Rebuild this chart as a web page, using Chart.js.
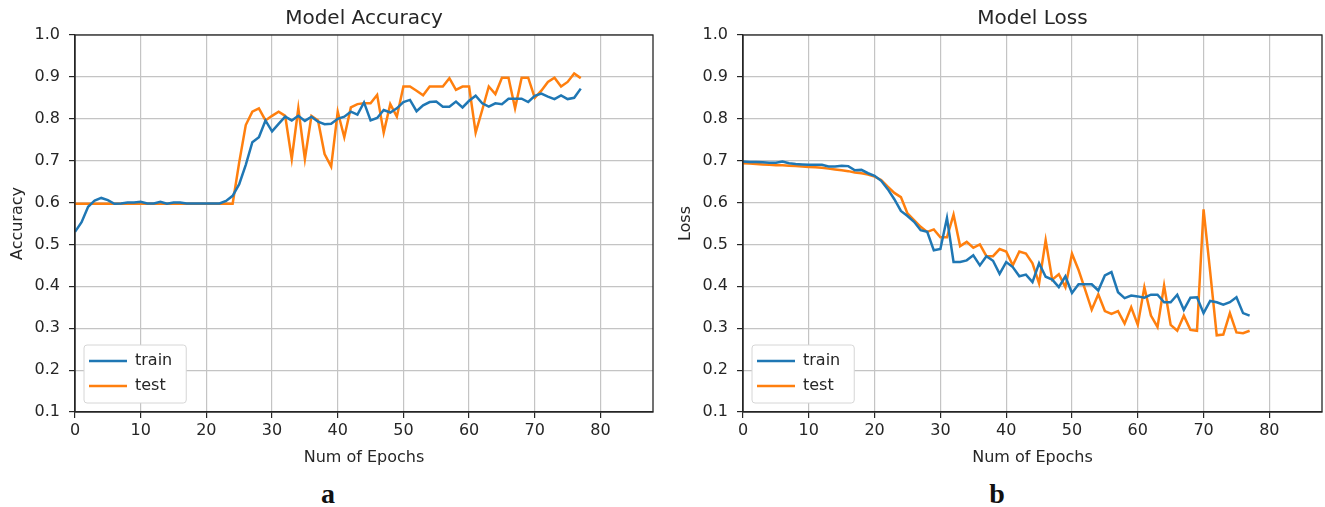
<!DOCTYPE html>
<html>
<head>
<meta charset="utf-8">
<script src="https://cdn.jsdelivr.net/npm/chart.js@4.4.1/dist/chart.umd.min.js"></script>
<style>
  body { margin: 0; background: #fff; width: 1325px; height: 507px; position: relative; overflow: hidden; }
  canvas { position: absolute; top: 0; }
  #accChart { left: 0; }
  #lossChart { left: 668px; }
  .tag { position: absolute; top: 478px; font: bold 28px "Liberation Serif", serif; color: #111; transform: translateX(-50%); }
</style>
</head>
<body>
<canvas id="accChart" width="662" height="475"></canvas>
<canvas id="lossChart" width="657" height="475"></canvas>
<div class="tag" style="left:328px">a</div>
<div class="tag" style="left:997px">b</div>
<script>
const accTrain = [0.53, 0.553, 0.59, 0.605, 0.611, 0.606, 0.597, 0.598, 0.6, 0.6,
  0.602, 0.598, 0.598, 0.602, 0.597, 0.6, 0.6, 0.598, 0.598, 0.598,
  0.598, 0.598, 0.598, 0.604, 0.616, 0.644, 0.69, 0.744, 0.756, 0.796,
  0.77, 0.788, 0.805, 0.796, 0.807, 0.795, 0.805, 0.793, 0.787, 0.788,
  0.8, 0.805, 0.817, 0.81, 0.839, 0.796, 0.802, 0.821, 0.815, 0.825,
  0.84, 0.845, 0.818, 0.832, 0.84, 0.841, 0.829, 0.829, 0.841, 0.827,
  0.843, 0.855, 0.837, 0.829, 0.837, 0.835, 0.848, 0.848, 0.848, 0.84,
  0.855, 0.86, 0.853, 0.847, 0.856, 0.847, 0.85, 0.872];
const accTest = [0.597, 0.597, 0.597, 0.597, 0.597, 0.597, 0.597, 0.597, 0.597, 0.597,
  0.597, 0.597, 0.597, 0.597, 0.597, 0.597, 0.597, 0.597, 0.597, 0.597,
  0.597, 0.597, 0.597, 0.597, 0.597, 0.696, 0.785, 0.817, 0.825, 0.796,
  0.807, 0.817, 0.807, 0.704, 0.825, 0.704, 0.807, 0.796, 0.716, 0.686,
  0.817, 0.756, 0.827, 0.835, 0.837, 0.837, 0.857, 0.767, 0.835, 0.805,
  0.877, 0.877, 0.867, 0.856, 0.877, 0.877, 0.877, 0.897, 0.869, 0.877,
  0.877, 0.767, 0.821, 0.877, 0.859, 0.898, 0.898, 0.825, 0.898, 0.898,
  0.85, 0.867, 0.888, 0.898, 0.877, 0.888, 0.908, 0.897];
const lossTrain = [0.698, 0.697, 0.697, 0.696, 0.695, 0.695, 0.698, 0.694, 0.692, 0.691,
  0.69, 0.69, 0.69, 0.686, 0.686, 0.688, 0.687, 0.677, 0.678, 0.67,
  0.664, 0.652, 0.632, 0.608, 0.58, 0.568, 0.554, 0.534, 0.53, 0.486,
  0.489, 0.563, 0.458, 0.458, 0.462, 0.474, 0.45, 0.472, 0.461, 0.43,
  0.458, 0.446, 0.424, 0.428, 0.41, 0.455, 0.423, 0.416, 0.398, 0.424,
  0.384, 0.405, 0.405, 0.405, 0.39, 0.426, 0.434, 0.386, 0.372, 0.378,
  0.376, 0.373, 0.38, 0.38, 0.362, 0.362, 0.38, 0.344, 0.373, 0.374,
  0.336, 0.365, 0.362, 0.356, 0.362, 0.374, 0.336, 0.33];
const lossTest = [0.694, 0.693, 0.692, 0.691, 0.69, 0.689, 0.689, 0.688, 0.687, 0.686,
  0.685, 0.684, 0.683, 0.681, 0.679, 0.677, 0.675, 0.672, 0.67, 0.667,
  0.662, 0.654, 0.638, 0.623, 0.613, 0.574, 0.558, 0.542, 0.53, 0.536,
  0.517, 0.517, 0.571, 0.496, 0.506, 0.492, 0.5, 0.472, 0.472, 0.489,
  0.483, 0.45, 0.483, 0.478, 0.455, 0.407, 0.51, 0.416, 0.429, 0.398,
  0.478, 0.439, 0.392, 0.344, 0.381, 0.341, 0.334, 0.341, 0.311, 0.35,
  0.308, 0.398, 0.33, 0.303, 0.402, 0.308, 0.294, 0.33, 0.296, 0.294,
  0.584, 0.435, 0.283, 0.285, 0.336, 0.29, 0.288, 0.294];
const xTicks = [0, 10, 20, 30, 40, 50, 60, 70, 80];

const BLUE = '#1f77b4';
const ORANGE = '#ff7f0e';
const INK = '#262626';

Chart.defaults.font.family = '"DejaVu Sans", sans-serif';
Chart.defaults.color = INK;

const toPoints = arr => arr.map((v, i) => ({ x: i, y: v }));

// matplotlib-style frame round the axes plus an opaque legend box
const framePlugin = {
  id: 'mplFrame',
  afterLayout(chart) {
    const lg = chart.legend;
    const a = chart.chartArea;
    lg.left = a.left + 5;
    lg.right = lg.left + lg.width;
    lg.bottom = a.bottom - 9;
  },
  afterDatasetsDraw(chart) {
    const ctx = chart.ctx;
    const a = chart.chartArea;
    ctx.save();
    ctx.strokeStyle = INK;
    ctx.lineWidth = 1.3;
    ctx.strokeRect(a.left, a.top, a.right - a.left, a.bottom - a.top);
    const hb = chart.legend.legendHitBoxes;
    if (hb && hb.length) {
      const l = Math.min(...hb.map(h => h.left)) - 5;
      const r = Math.max(...hb.map(h => h.left + h.width)) + 14;
      const t = Math.min(...hb.map(h => h.top)) - 8;
      const b = Math.max(...hb.map(h => h.top + h.height)) + 9;
      ctx.beginPath();
      ctx.roundRect(l, t, r - l, b - t, 3);
      ctx.fillStyle = '#ffffff';
      ctx.fill();
      ctx.strokeStyle = '#d6d6d6';
      ctx.lineWidth = 1;
      ctx.stroke();
    }
    ctx.restore();
    chart.legend.draw();
  }
};

function makeChart(id, title, yLabel, train, test, padRight) {
  return new Chart(document.getElementById(id), {
    type: 'line',
    data: {
      datasets: [
        { label: 'train', data: toPoints(train), borderColor: BLUE, backgroundColor: BLUE, borderWidth: 2.5 },
        { label: 'test', data: toPoints(test), borderColor: ORANGE, backgroundColor: ORANGE, borderWidth: 2.5 }
      ]
    },
    options: {
      responsive: false,
      animation: false,
      devicePixelRatio: 1,
      elements: { point: { radius: 0 }, line: { tension: 0 } },
      layout: { padding: { left: 0, right: padRight, top: 0, bottom: 0 } },
      plugins: {
        title: {
          display: true, text: title, fullSize: false, color: INK,
          font: { size: 20, weight: 'normal' }, padding: { top: 7, bottom: 4 }
        },
        legend: {
          position: 'chartArea', align: 'end',
          labels: {
            usePointStyle: true, pointStyle: 'line', pointStyleWidth: 38,
            boxHeight: 16, padding: 9, color: INK, font: { size: 16 }
          }
        },
        tooltip: { enabled: false }
      },
      scales: {
        x: {
          type: 'linear', min: 0, max: 88,
          afterBuildTicks: s => { s.ticks = xTicks.map(v => ({ value: v })); },
          afterFit: s => { s.height = 63; },
          grid: { color: '#c4c4c4', lineWidth: 1.2, tickColor: INK, tickLength: 6 },
          border: { color: INK, width: 1.3 },
          ticks: { font: { size: 16 }, padding: 3, maxRotation: 0, color: INK },
          title: { display: true, text: 'Num of Epochs', font: { size: 16 }, padding: { top: 0, bottom: 8 }, color: INK }
        },
        y: {
          min: 0.1, max: 1.0,
          afterFit: s => { s.width = 75; },
          grid: { color: '#c4c4c4', lineWidth: 1.2, tickColor: INK, tickLength: 6 },
          border: { color: INK, width: 1.3 },
          ticks: { stepSize: 0.1, font: { size: 16 }, padding: 9, color: INK, callback: v => v.toFixed(1) },
          title: { display: true, text: yLabel, font: { size: 16 }, padding: { top: 8, bottom: 0 }, color: INK }
        }
      }
    },
    plugins: [framePlugin]
  });
}

makeChart('accChart', 'Model Accuracy', 'Accuracy', accTrain, accTest, 9);
makeChart('lossChart', 'Model Loss', 'Loss', lossTrain, lossTest, 3);
</script>
</body>
</html>
